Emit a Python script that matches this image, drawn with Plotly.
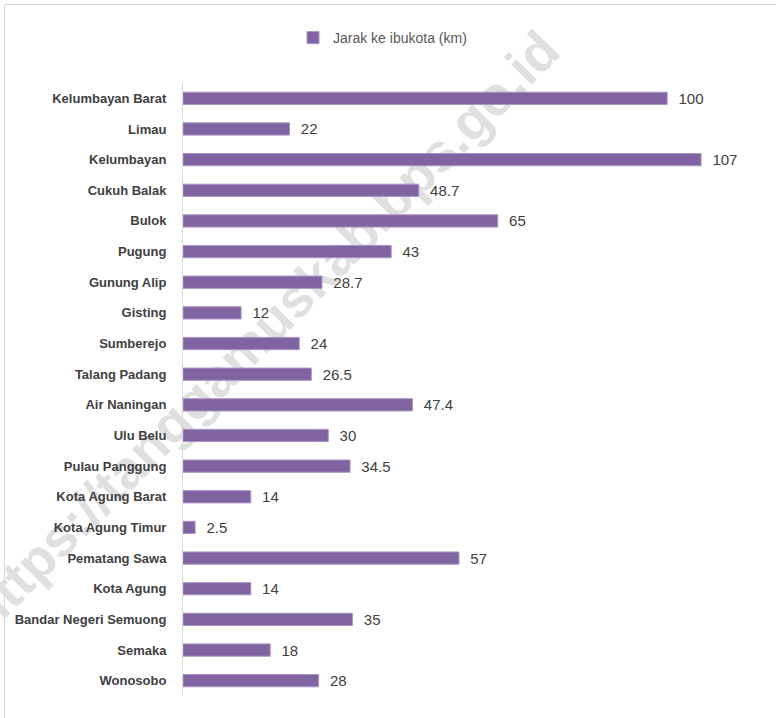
import plotly.graph_objects as go

# Distance from each district to the regency capital (km)
districts = [
    "Kelumbayan Barat", "Limau", "Kelumbayan", "Cukuh Balak", "Bulok", "Pugung",
    "Gunung Alip", "Gisting", "Sumberejo", "Talang Padang", "Air Naningan",
    "Ulu Belu", "Pulau Panggung", "Kota Agung Barat", "Kota Agung Timur",
    "Pematang Sawa", "Kota Agung", "Bandar Negeri Semuong", "Semaka", "Wonosobo",
]
distance_km = [100, 22, 107, 48.7, 65, 43, 28.7, 12, 24, 26.5, 47.4, 30, 34.5,
               14, 2.5, 57, 14, 35, 18, 28]
series_name = "Jarak ke ibukota (km)"
watermark = "https://tanggamuskab.bps.go.id"

W, H = 776, 718
L, R, T, B = 183, 12, 83, 22
pw, ph = W - L - R, H - T - B


def px_to_paper(x, y):
    return (x - L) / pw, 1 - (y - T) / ph


FONT = "Liberation Sans, Arial, sans-serif"
BAR = "#8064A2"

fig = go.Figure(
    go.Bar(
        y=districts,
        x=distance_km,
        orientation="h",
        name=series_name,
        width=0.4,
        marker=dict(color=BAR, line=dict(color="#a993c6", width=1)),
        texttemplate="\u00a0\u00a0%{x}",
        textposition="outside",
        constraintext="none",
        cliponaxis=False,
        textfont=dict(family=FONT, size=15, color="#404040"),
        showlegend=True,
    )
)

# Watermark text centred on an invisible line, kept beneath the bars
wx0, wy0 = px_to_paper(-36, 626)
wx1, wy1 = px_to_paper(554, 28)
border_x0, border_y1 = px_to_paper(4.5, 4.5)
border_x1, border_y0 = px_to_paper(790, 740)

fig.update_layout(
    width=W,
    height=H,
    margin=dict(l=L, r=R, t=T, b=B, autoexpand=False),
    paper_bgcolor="white",
    plot_bgcolor="rgba(0,0,0,0)",
    font=dict(family=FONT, color="#404040"),
    legend=dict(
        orientation="h",
        xref="container", yref="container",
        x=(333 - 40) / W, xanchor="left",
        y=1 - 38 / H, yanchor="middle",
        font=dict(family=FONT, size=14, color="#595959"),
        itemwidth=30,
    ),
    xaxis=dict(
        range=[0, 120],
        showticklabels=False,
        showgrid=False,
        zeroline=False,
        showline=False,
        fixedrange=True,
        automargin=False,
    ),
    yaxis=dict(
        autorange="reversed",
        categoryorder="array",
        categoryarray=districts,
        showline=True,
        linecolor="#d9d9d9",
        linewidth=1,
        ticks="",
        ticklabelstandoff=13,
        tickfont=dict(family=FONT, size=13, color="#404040", weight="bold"),
        showgrid=False,
        automargin=False,
    ),
    shapes=[
        dict(
            type="line", xref="paper", yref="paper",
            x0=wx0, y0=wy0, x1=wx1, y1=wy1,
            line=dict(width=0, color="rgba(0,0,0,0)"),
            layer="below",
            label=dict(
                text=watermark,
                textposition="middle",
                yanchor="middle",
                font=dict(family=FONT, size=54, color="#e0e0e0", weight="bold"),
            ),
        ),
        dict(
            type="rect", xref="paper", yref="paper",
            x0=border_x0, y0=border_y0, x1=border_x1, y1=border_y1,
            line=dict(color="#d9d9d9", width=1),
            fillcolor="rgba(0,0,0,0)",
            layer="below",
        ),
    ],
)

fig.write_html("out.html")
